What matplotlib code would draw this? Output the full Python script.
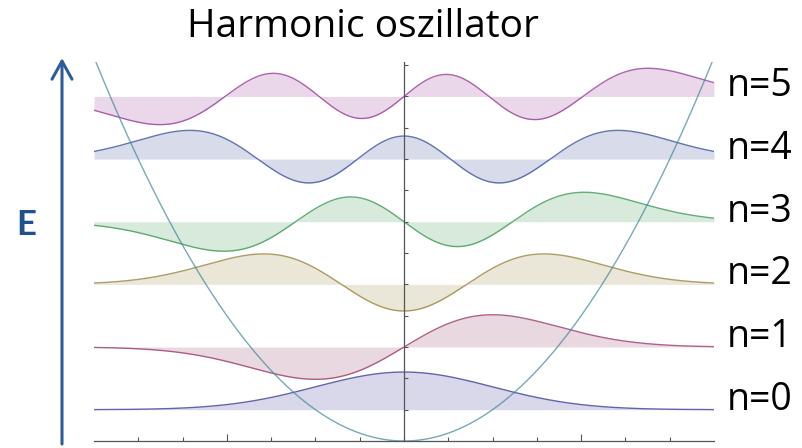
import matplotlib
matplotlib.use("Agg")
import matplotlib.pyplot as plt
import numpy as np
from math import factorial, pi, sqrt
from numpy.polynomial.hermite import hermval

# Quantum numbers shown, their labels and colours (Mathematica-style palette)
levels = [0, 1, 2, 3, 4, 5]
level_labels = ["n=0", "n=1", "n=2", "n=3", "n=4", "n=5"]
level_colors = ["#3d3d99", "#993d6b", "#99853d", "#3d9954", "#3d5499", "#993d99"]
potential_color = "#3d8599"

x_range = (-3.5, 3.5)
psi_scale = 0.8          # vertical size of a wavefunction in energy units
e_top = 6.05


def psi(n, x):
    # normalised harmonic oscillator eigenfunction (hbar = m = omega = 1)
    coef = np.zeros(n + 1)
    coef[n] = 1.0
    norm = 1.0 / sqrt(2.0 ** n * factorial(n) * sqrt(pi))
    return norm * hermval(x, coef) * np.exp(-x ** 2 / 2)


plt.rcParams['font.family'] = ['Open Sans', 'DejaVu Sans']

fig = plt.figure(figsize=(8.02, 4.48), dpi=100)
ax = fig.add_axes([94 / 802, 7 / 448, 620 / 802, 379 / 448])

x = np.linspace(*x_range, 800)

for n, label, c in zip(levels, level_labels, level_colors):
    energy = n + 0.5
    y = energy + psi_scale * psi(n, x)
    ax.fill_between(x, energy, y, color=c, alpha=0.2, lw=0)
    ax.plot(x, y, color=c, lw=1.0, alpha=0.8)
    ax.annotate(label, xy=(x_range[1], energy), xytext=(13, 10),
                textcoords='offset pixels', ha='left', va='center',
                fontsize=27, color='black', annotation_clip=False)

# potential V(x) = x^2 / 2
ax.plot(x, x ** 2 / 2, color=potential_color, lw=1.0, alpha=0.7)

ax.set_xlim(*x_range)
ax.set_ylim(0, e_top)

# axes crossing at the origin, no labels
for side in ['top', 'right']:
    ax.spines[side].set_visible(False)
ax.spines['left'].set_position(('data', 0))
for side in ['left', 'bottom']:
    ax.spines[side].set_color('#555555')
    ax.spines[side].set_linewidth(0.9)

ax.set_xticks([-2, 2])
ax.set_xticks(np.arange(-3.0, 3.01, 0.5), minor=True)
ax.set_yticks(np.arange(0.5, 6.01, 0.5))
ax.tick_params(which='major', direction='in', length=5, width=0.8, color='#555555',
               labelbottom=False, labelleft=False)
ax.tick_params(which='minor', direction='in', length=3, width=0.8, color='#555555')
ax.tick_params(axis='y', length=3)

# energy arrow on the left
ax.annotate('', xy=(62 / 802, 390 / 448), xytext=(62 / 802, 4 / 448),
            xycoords='figure fraction', textcoords='figure fraction',
            arrowprops=dict(arrowstyle='->,head_length=1.3,head_width=0.72',
                            color='#2e5c99', lw=2.2, shrinkA=0, shrinkB=0,
                            mutation_scale=10))
fig.text(26 / 802, 1 - 225 / 448, 'E', ha='center', va='center',
         fontsize=25, fontweight='bold', color='#21508f', family='Lato')

fig.text(363 / 802, 1 - 27 / 448, 'Harmonic oszillator', ha='center', va='center',
         fontsize=28, color='black')

fig.savefig('out.png', dpi=100)
